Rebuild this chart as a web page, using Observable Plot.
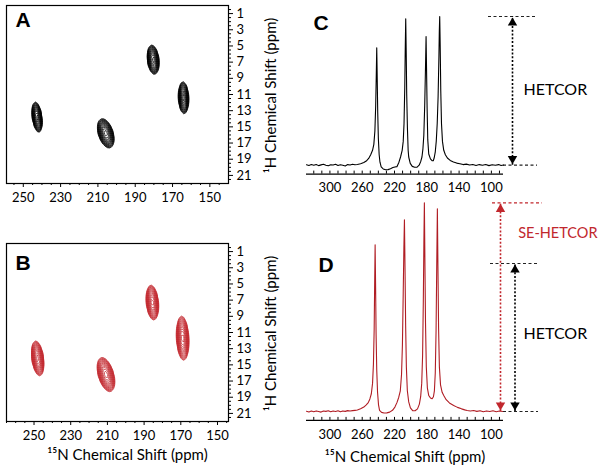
<!DOCTYPE html>
<html><head><meta charset="utf-8">
<script src="https://cdn.jsdelivr.net/npm/d3@7"></script>
<script src="https://cdn.jsdelivr.net/npm/@observablehq/plot@0.6"></script>
<style>
body{margin:0;background:#fff;}
#wrap{position:relative;width:602px;height:472px;overflow:hidden;font-family:Lato,"Open Sans",sans-serif;}
#wrap > div{position:absolute;}
#pa{left:0;top:0;width:300px;height:230px;}
#pb{left:0;top:238px;width:300px;height:234px;}
#pc{left:290px;top:0;width:312px;height:200px;}
#pd{left:290px;top:190px;width:312px;height:282px;}
</style></head><body><div id="wrap">
<div id="pa"></div><div id="pb"></div><div id="pc"></div><div id="pd"></div>
</div>
<script>
// ---------- data ----------
const contourLevels = [0.1, 0.117, 0.137, 0.16, 0.187, 0.219, 0.257, 0.3, 0.351, 0.411, 0.481, 0.562, 0.658, 0.77, 0.9];
// 2D HETCOR (panel A) peak positions / widths (ppm)
const aN15 = [242.6, 205.8, 180.4, 164.1];
const aH1 = [13.8, 15.8, 6.7, 11.4];
const aSigmaN = [1.18, 1.9, 1.43, 1.25];
const aSigmaH = [0.87, 0.84, 0.84, 0.92];
const aTilt = [0.5, 1.0, 0.4, 0.15];
// 2D SE-HETCOR (panel B)
const bN15 = [248, 210.8, 185.5, 169];
const bH1 = [14.2, 16.2, 7.3, 11.7];
const bSigmaN = [1.48, 2.0, 1.52, 1.54];
const bSigmaH = [1.0, 0.98, 1.0, 1.27];
const bTilt = [0.5, 1.0, 0.35, 0.2];
// axes
const n15TicksA = [250, 230, 210, 190, 170, 150];
const n15MinorA = [145,155,160,165,175,180,185,195,200,205,215,220,225,235,240,245,255];
const n15MinorB = [145,155,160,165,175,180,185,195,200,205,215,220,225,235,240,245,255,260,265];
const h1Ticks = [1, 3, 5, 7, 9, 11, 13, 15, 17, 19, 21];
const h1Minor = [0.5,1.5,2,2.5,3.5,4,4.5,5.5,6,6.5,7.5,8,8.5,9.5,10,10.5,11.5,12,12.5,13.5,14,14.5,15.5,16,16.5,17.5,18,18.5,19.5,20,20.5,21.5];
const specTicks = [300, 260, 220, 180, 140, 100];
const specMinor = [90,100,110,120,130,140,150,160,170,180,190,200,210,220,230,240,250,260,270,280,290,300,310,320];
// 1D spectra [ppm, normalized intensity]
const specC = [[329,0.003],[326,-0.002],[323,0.004],[320,0.0],[317,0.005],[314,-0.003],[311,0.002],[308,0.006],[305,0.0],[302,-0.004],[299,0.003],[296,0.001],[293,0.006],[290,-0.002],[287,0.003],[284,0.0],[281,-0.005],[278,0.004],[275,0.001],[272,0.006],[269,0.003],[266,0.005],[262,0.01],[258,0.018],[255,0.028],[252,0.045],[249.5,0.07],[247.2,0.1],[245.6,0.14],[244.3,0.23],[243.3,0.4],[242.6,0.6],[242.0,0.79],[241.4,0.58],[240.8,0.36],[240.0,0.18],[239.0,0.07],[238.0,0.02],[236.5,-0.012],[234,-0.025],[231,-0.031],[228,-0.03],[225,-0.024],[222,-0.016],[219.5,-0.012],[217,-0.01],[214.5,0.02],[212.5,0.055],[210.5,0.1],[209.2,0.16],[208.2,0.28],[207.3,0.52],[206.7,0.78],[206.1,0.985],[205.5,0.76],[204.9,0.48],[204.0,0.25],[203.1,0.1],[202.4,0.055],[200.5,0.012],[198,-0.008],[195,-0.014],[192,-0.013],[189.5,0.0],[187.5,0.025],[186,0.055],[184.8,0.11],[183.7,0.2],[182.6,0.4],[181.6,0.66],[180.9,0.865],[180.3,0.64],[179.6,0.38],[178.8,0.17],[177.6,0.075],[175.5,0.042],[173.5,0.03],[172,0.03],[170.8,0.05],[169.5,0.09],[168.3,0.16],[167.1,0.28],[166.0,0.46],[165.0,0.73],[164.5,0.9],[164.0,1.0],[163.4,0.8],[162.7,0.5],[161.8,0.28],[160.6,0.16],[159,0.1],[157,0.07],[154.5,0.048],[151,0.032],[147,0.022],[143,0.014],[139,0.01],[135,0.004],[131,0.007],[127,0.001],[123,0.005],[119,-0.002],[115,0.004],[111,0.0],[107,0.005],[103,-0.003],[99,0.003],[95,0.0],[91,0.004],[88,-0.002],[85,0.001]];
const specD = [[329,0.002],[326,-0.003],[323,0.003],[320,-0.001],[317,0.004],[314,0.0],[311,-0.004],[308,0.003],[305,0.001],[302,0.005],[299,-0.002],[296,0.003],[293,0.0],[290,0.005],[287,-0.002],[284,0.004],[281,0.001],[278,0.006],[275,0.003],[272,0.006],[269,0.008],[266,0.01],[262,0.018],[258,0.03],[255,0.045],[252.5,0.06],[250.5,0.085],[248.7,0.12],[247.2,0.19],[246.1,0.32],[245.2,0.55],[244.6,0.85],[244.0,1.126],[243.4,0.84],[242.8,0.52],[242.0,0.28],[241.0,0.13],[239.8,0.045],[238.5,0.008],[236,-0.006],[233,-0.01],[229.5,-0.009],[226,-0.004],[222.5,0.008],[219.5,0.03],[217,0.06],[214.8,0.095],[212.8,0.14],[211.3,0.25],[210.2,0.45],[209.2,0.8],[208.4,1.1],[207.7,1.295],[207.0,0.98],[206.2,0.58],[205.3,0.3],[204.1,0.14],[202.4,0.065],[200.3,0.025],[197.5,0.006],[194.5,0.005],[191.5,0.018],[189.2,0.05],[187.6,0.1],[186.3,0.19],[185.2,0.38],[184.3,0.75],[183.6,1.15],[183.0,1.41],[182.4,1.05],[181.6,0.6],[180.6,0.3],[179.3,0.16],[177.6,0.108],[175.5,0.092],[173.4,0.086],[171.8,0.1],[170.6,0.14],[169.5,0.26],[168.5,0.55],[167.7,0.98],[166.9,1.37],[166.2,0.98],[165.4,0.56],[164.4,0.3],[163,0.18],[161,0.13],[159,0.108],[156,0.08],[152,0.058],[146.7,0.041],[142,0.028],[137,0.018],[133,0.011],[130,0.007],[126,0.004],[122,0.007],[118,0.001],[114,0.005],[110,-0.002],[106,0.004],[102,0.0],[98,0.005],[94,-0.001],[90,0.003],[86,0.0]];
const hetcorLevel = [1.0];
const seHetcorLevel = [1.41];
const baseLevel = [0];

// ---------- helpers ----------
const RED = "#c1272d";
const FONT = "Lato, 'Open Sans', sans-serif";
const baseStyle = `background: transparent; overflow: visible; max-width: none; font-family: ${FONT}; font-size: 13px; color: black;`;
function field(n15, h1, sN, sH, tilt) {
  return (x, y) => {
    let v = 0;
    for (let i = 0; i < n15.length; i++) {
      const dy = (y - h1[i]) / sH[i];
      const dx = (x - n15[i] + tilt[i] * (y - h1[i])) / sN[i];
      v += Math.exp(-0.5 * (dx * dx + dy * dy));
    }
    return v;
  };
}
function panel2D({n15, h1, sN, sH, tilt, color, domainX, minor, letter, height, marginBottom, xLabel}) {
  const marks = [
    Plot.contour({x1: domainX[0], x2: domainX[1], y1: 0, y2: 22,
      value: field(n15, h1, sN, sH, tilt), thresholds: contourLevels,
      fill: "none", stroke: color, strokeWidth: 0.75}),
    Plot.frame({stroke: "black", strokeWidth: 1.2}),
    Plot.axisX({ticks: n15TicksA, tickSize: 4, tickPadding: 5, label: null, fontSize: 13}),
    Plot.axisX({ticks: minor, tickSize: 2, tickFormat: () => "", label: null}),
    Plot.axisY({anchor: "right", ticks: h1Ticks, tickSize: 4, tickPadding: 4, label: null, fontSize: 13}),
    Plot.axisY({anchor: "right", ticks: h1Minor, tickSize: 2, tickFormat: () => "", label: null}),
    Plot.text(["¹H Chemical Shift (ppm)"], {text: d => d, frameAnchor: "right", dx: 43, dy: 1, rotate: -90, textAnchor: "middle", lineAnchor: "middle", fontSize: 15}),
    Plot.text([letter.t], {text: d => d, frameAnchor: "top-left", dx: 9, dy: letter.dy, lineAnchor: "top", textAnchor: "start", fontSize: 21, fontWeight: "bold", fontFamily: "'Liberation Sans', Arial, sans-serif"})
  ];
  if (xLabel) marks.push(Plot.text([xLabel], {text: d => d, frameAnchor: "bottom", dx: 10, dy: 38, textAnchor: "middle", lineAnchor: "bottom", fontSize: 15}));
  return Plot.plot({
    width: 300, height, marginLeft: 6, marginRight: 72, marginTop: 5, marginBottom,
    x: {domain: domainX}, y: {domain: [0, 22], reverse: true},
    style: baseStyle, marks
  });
}
function arrow(level, color, dx) {
  return [
    Plot.ruleX([0], {x: 85, y1: 0, y2: level, dx, stroke: color, strokeWidth: 1.6, strokeDasharray: "2,1.8"}),
    Plot.dot([level], {x: 85, y: d => d, dx, dy: 6.4, symbol: "triangle", r: 3.5, fill: color, stroke: null}),
    Plot.dot([0], {x: 85, y: d => d, dx, dy: -6.4, symbol: "triangle", rotate: 180, r: 3.5, fill: color, stroke: null})
  ];
}
function dashLine(level, color, left, right) {
  return Plot.ruleY([level], {x1: 85, x2: 85, insetLeft: -left, insetRight: -right, stroke: color, strokeWidth: 1.2, strokeDasharray: "3,2.5"});
}
const specDomain = [329, 85];

// ---------- panels ----------
document.getElementById("pa").append(panel2D({
  n15: aN15, h1: aH1, sN: aSigmaN, sH: aSigmaH, tilt: aTilt, color: "black",
  domainX: [259, 140], minor: n15MinorA, letter: {t: "A", dy: 7}, height: 230, marginBottom: 47
}));
document.getElementById("pb").append(panel2D({
  n15: bN15, h1: bH1, sN: bSigmaN, sH: bSigmaH, tilt: bTilt, color: RED,
  domainX: [265, 144], minor: n15MinorB, letter: {t: "B", dy: 12}, height: 234, marginBottom: 51,
  xLabel: "¹⁵N Chemical Shift (ppm)"
}));

document.getElementById("pc").append(Plot.plot({
  width: 312, height: 200, marginLeft: 16, marginRight: 99, marginTop: 16, marginBottom: 26.4,
  x: {domain: specDomain}, y: {domain: [-0.06, 1.0], axis: null},
  style: baseStyle,
  marks: [
    Plot.ruleY([-0.06], {stroke: "black", strokeWidth: 1.3}),
    Plot.axisX({ticks: specTicks, tickSize: 0, tickPadding: 9, label: null, fontSize: 13}),
    Plot.axisX({ticks: specMinor, tickSize: -3, tickFormat: () => "", label: null}),
    dashLine(hetcorLevel[0], "#222", 15, 34),
    dashLine(baseLevel[0], "#222", 0, 34),
    ...arrow(hetcorLevel[0], "black", 9),
    Plot.line(specC, {x: d => d[0], y: d => d[1], stroke: "black", strokeWidth: 1.1}),
    Plot.text(["HETCOR"], {text: d => d, frameAnchor: "right", dx: 20, dy: -5, textAnchor: "start", fontSize: 16}),
    Plot.text(["C"], {text: d => d, frameAnchor: "top-left", dx: 7, dy: -1, lineAnchor: "top", textAnchor: "start", fontSize: 21, fontWeight: "bold", fontFamily: "'Liberation Sans', Arial, sans-serif"})
  ]
}));

document.getElementById("pd").append(Plot.plot({
  width: 312, height: 282, marginLeft: 16, marginRight: 99, marginTop: 10.8, marginBottom: 52.1,
  x: {domain: specDomain}, y: {domain: [-0.06, 1.42], axis: null},
  style: baseStyle,
  marks: [
    Plot.ruleY([-0.06], {stroke: "black", strokeWidth: 1.3}),
    Plot.axisX({ticks: specTicks, tickSize: 0, tickPadding: 9, label: null, fontSize: 13}),
    Plot.axisX({ticks: specMinor, tickSize: -3, tickFormat: () => "", label: null}),
    dashLine(seHetcorLevel[0], RED, 11, 39),
    dashLine(hetcorLevel[0], "#222", 13, 35),
    dashLine(baseLevel[0], "#222", 0, 35),
    Plot.line(specD, {x: d => d[0], y: d => d[1], stroke: "#b01d24", strokeWidth: 1.1}),
    ...arrow(seHetcorLevel[0], RED, -3),
    ...arrow(hetcorLevel[0], "black", 11.5),
    Plot.text(["SE-HETCOR"], {text: d => d, frameAnchor: "right", dx: 94, dy: -77, textAnchor: "end", fontSize: 14.5, fill: RED}),
    Plot.text(["HETCOR"], {text: d => d, frameAnchor: "right", dx: 20, dy: 23, textAnchor: "start", fontSize: 16}),
    Plot.text(["¹⁵N Chemical Shift (ppm)"], {text: d => d, frameAnchor: "bottom", dy: 42, textAnchor: "middle", lineAnchor: "bottom", fontSize: 15}),
    Plot.text(["D"], {text: d => d, frameAnchor: "top-left", dx: 12, dy: 56, lineAnchor: "top", textAnchor: "start", fontSize: 21, fontWeight: "bold", fontFamily: "'Liberation Sans', Arial, sans-serif"})
  ]
}));
</script></body></html>
